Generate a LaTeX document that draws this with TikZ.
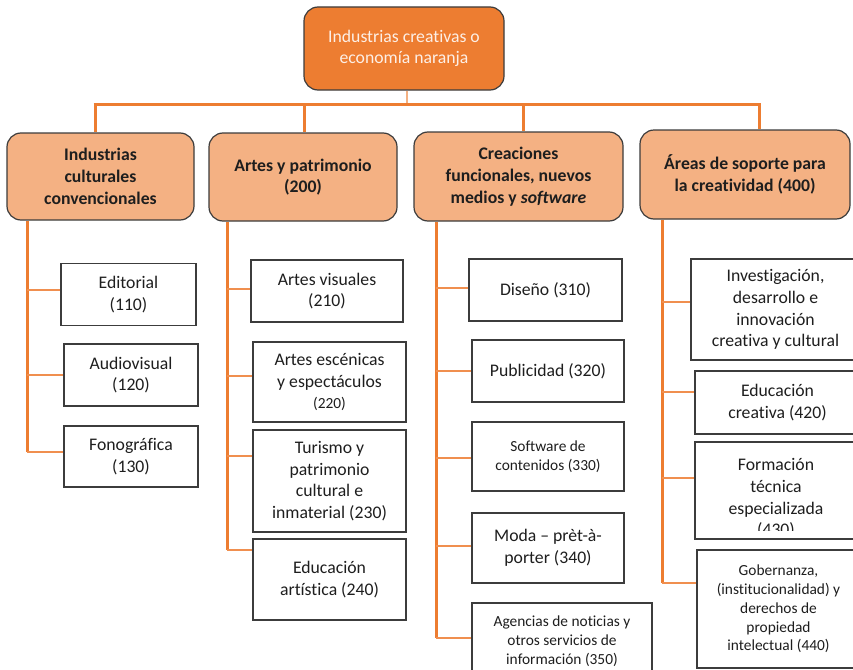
\documentclass[tikz,border=0pt]{standalone}
\usepackage{fontspec}
\setmainfont{Carlito}[Ligatures=NoCommon]
\definecolor{orng}{HTML}{ED7D31}
\definecolor{peach}{HTML}{F4B183}
\definecolor{twig}{HTML}{F08F4F}
\definecolor{ink}{HTML}{1E1E1E}
\definecolor{rim}{HTML}{3C3C3C}
\newcommand{\bigtxt}{\fontsize{17.7}{21.7}\selectfont}
\newcommand{\smalltxt}{\fontsize{15.4}{18.8}\selectfont}

\begin{document}
\begin{tikzpicture}[x=1pt,y=-1pt,
  root/.style={draw=rim, line width=1.2pt, fill=orng, rounded corners=14pt,
    text=white!88!orng, align=center, font=\bigtxt, inner sep=0pt},
  cat/.style={draw=rim, line width=1.2pt, fill=peach, rounded corners=14pt,
    text=ink, align=center, font=\bfseries\bigtxt, inner sep=0pt},
  leaf/.style={draw=rim, line width=1.2pt, fill=white, text=ink,
    align=center, font=\bigtxt, inner sep=0pt},
  leafsmall/.style={leaf, font=\smalltxt},
  bar/.style={draw=orng, line width=3pt},
  stem/.style={draw=peach, line width=2pt},
  spine/.style={draw=orng, line width=3pt},
  twigline/.style={draw=twig, line width=1.6pt},
]
\useasboundingbox (0,0) rectangle (853,669);

% root
\node[root, minimum width=200, minimum height=83] (root) at (404,48.5)
  {Industrias creativas o\\economía naranja};

% four categories
\node[cat, minimum width=187, minimum height=87] (l1) at (100.5,176.5)
  {Industrias\\culturales\\convencionales};
\node[cat, minimum width=188, minimum height=88] (l2) at (303,177)
  {Artes y patrimonio\\(200)};
\node[cat, minimum width=209, minimum height=89] (l3) at (518.5,176.5)
  {Creaciones\\funcionales, nuevos\\medios y \textit{software}};
\node[cat, minimum width=210, minimum height=89] (l4) at (745,174.5)
  {Áreas de soporte para\\la creatividad (400)};

% connectors from the root to the categories
\coordinate (rs) at (407,104);
\coordinate (d1) at (95,104);
\coordinate (d2) at (304,104);
\coordinate (d3) at (523,104);
\coordinate (d4) at (759,104);
\draw[stem] (rs |- root.south) -- (rs);
\draw[bar] ([xshift=-1.5pt]d1) -- ([xshift=1.5pt]d4);
\draw[bar] (d1) -- (d1 |- l1.north);
\draw[bar] (d2) -- (d2 |- l2.north);
\draw[bar] (d3) -- (d3 |- l3.north);
\draw[bar] (d4) -- (d4 |- l4.north);

% column 1
\node[leaf, minimum width=135, minimum height=62] (b110) at (128.5,294.5) {Editorial\\(110)};
\node[leaf, minimum width=134, minimum height=62] (b120) at (131,375) {Audiovisual\\(120)};
\node[leaf, minimum width=134, minimum height=61] (b130) at (131,456.5) {Fonográfica\\(130)};

% column 2
\node[leaf, minimum width=152, minimum height=62] (b210) at (327,291) {Artes visuales\\(210)};
\node[leaf, minimum width=153, minimum height=80] (b220) at (329.5,382)
  {Artes escénicas\\y espectáculos\\\smalltxt (220)};
\node[leaf, minimum width=153, minimum height=102] (b230) at (329.5,481)
  {Turismo y\\patrimonio\\cultural e\\inmaterial (230)};
\node[leaf, minimum width=153, minimum height=81] (b240) at (329.5,579.5)
  {Educación\\artística (240)};

% column 3
\node[leaf, minimum width=153, minimum height=62] (b310) at (545.5,290) {Diseño (310)};
\node[leaf, minimum width=152, minimum height=62] (b320) at (548,371) {Publicidad (320)};
\node[leafsmall, minimum width=152, minimum height=69] (b330) at (548,456.5)
  {Software de\\contenidos (330)};
\node[leaf, minimum width=152, minimum height=70] (b340) at (548,548)
  {Moda – prèt-à-\\porter (340)};
\node[leafsmall, minimum width=180, minimum height=77] (b350) at (562,641.5)
  {Agencias de noticias y\\otros servicios de\\información (350)};

% column 4
\node[leaf, minimum width=169, minimum height=101] (b410) at (775.5,309.5)
  {Investigación,\\desarrollo e\\innovación\\creativa y cultural};
\node[leaf, minimum width=165, minimum height=63] (b420) at (777.5,402.5)
  {Educación\\creativa (420)};
\node[leaf, minimum width=165, minimum height=97] (b430) at (777.5,490.5) {};
\begin{scope}
  \clip (b430.north west) rectangle ([yshift=9pt]b430.south east);
  \node[align=center, font=\bigtxt, text=ink, inner sep=0pt] (t430) at (776,498.5)
    {Formación\\técnica\\especializada\\(430)};
\end{scope}
\node[leafsmall, minimum width=163, minimum height=118] (b440) at (778.5,609)
  {Gobernanza,\\(institucionalidad) y\\derechos de\\propiedad\\intelectual (440)};

% spines and branches
\coordinate (j110) at (27,290);
\coordinate (j120) at (27,375);
\coordinate (j130) at (27,452);
\draw[spine] (j110 |- l1.south) -- (j130);
\draw[twigline] (j110) -- (j110 -| b110.west);
\draw[twigline] (j120) -- (j120 -| b120.west);
\draw[twigline] (j130) -- (j130 -| b130.west);

\coordinate (j210) at (227,289);
\coordinate (j220) at (227,376);
\coordinate (j230) at (227,456);
\coordinate (j240) at (227,550);
\draw[spine] (j210 |- l2.south) -- (j240);
\draw[twigline] (j210) -- (j210 -| b210.west);
\draw[twigline] (j220) -- (j220 -| b220.west);
\draw[twigline] (j230) -- (j230 -| b230.west);
\draw[twigline] (j240) -- (j240 -| b240.west);

\coordinate (j310) at (436,288);
\coordinate (j320) at (436,371);
\coordinate (j330) at (436,458);
\coordinate (j340) at (436,546);
\coordinate (j350) at (436,638);
\draw[spine] (j310 |- l3.south) -- (j350);
\draw[twigline] (j310) -- (j310 -| b310.west);
\draw[twigline] (j320) -- (j320 -| b320.west);
\draw[twigline] (j330) -- (j330 -| b330.west);
\draw[twigline] (j340) -- (j340 -| b340.west);
\draw[twigline] (j350) -- (j350 -| b350.west);

\coordinate (j410) at (662,302);
\coordinate (j420) at (662,392);
\coordinate (j430) at (662,478);
\coordinate (j440) at (662,583);
\draw[spine] (j410 |- l4.south) -- (j440);
\draw[twigline] (j410) -- (j410 -| b410.west);
\draw[twigline] (j420) -- (j420 -| b420.west);
\draw[twigline] (j430) -- (j430 -| b430.west);
\draw[twigline] (j440) -- (j440 -| b440.west);
\end{tikzpicture}
\end{document}
